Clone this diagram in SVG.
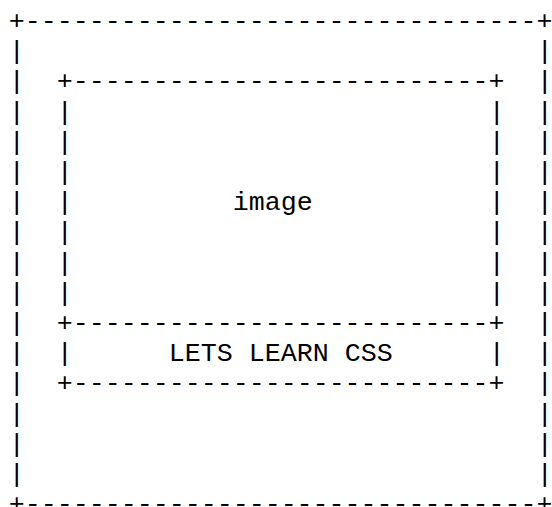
<svg xmlns="http://www.w3.org/2000/svg" width="552" height="507" viewBox="0 0 552 507">
<style>
.t{font-family:"Liberation Mono","Cousine",monospace;font-size:26.667px;fill:#000;white-space:pre}
</style>
<rect width="552" height="507" fill="#fff"/>
<g id="outer-box">
<text class="t" x="8.7" y="29">+--------------------------------+</text>
<text class="t" x="8.7" y="512.2">+--------------------------------+</text>
<text class="t" x="8.7" y="59.2">|</text><text class="t" x="536.7" y="59.2">|</text>
<text class="t" x="8.7" y="89.4">|</text><text class="t" x="536.7" y="89.4">|</text>
<text class="t" x="8.7" y="119.6">|</text><text class="t" x="536.7" y="119.6">|</text>
<text class="t" x="8.7" y="149.8">|</text><text class="t" x="536.7" y="149.8">|</text>
<text class="t" x="8.7" y="180">|</text><text class="t" x="536.7" y="180">|</text>
<text class="t" x="8.7" y="210.2">|</text><text class="t" x="536.7" y="210.2">|</text>
<text class="t" x="8.7" y="240.4">|</text><text class="t" x="536.7" y="240.4">|</text>
<text class="t" x="8.7" y="270.6">|</text><text class="t" x="536.7" y="270.6">|</text>
<text class="t" x="8.7" y="300.8">|</text><text class="t" x="536.7" y="300.8">|</text>
<text class="t" x="8.7" y="331">|</text><text class="t" x="536.7" y="331">|</text>
<text class="t" x="8.7" y="361.2">|</text><text class="t" x="536.7" y="361.2">|</text>
<text class="t" x="8.7" y="391.4">|</text><text class="t" x="536.7" y="391.4">|</text>
<text class="t" x="8.7" y="421.6">|</text><text class="t" x="536.7" y="421.6">|</text>
<text class="t" x="8.7" y="451.8">|</text><text class="t" x="536.7" y="451.8">|</text>
<text class="t" x="8.7" y="482">|</text><text class="t" x="536.7" y="482">|</text>
</g>
<g id="image-box">
<text class="t" x="56.7" y="89.4">+--------------------------+</text>
<text class="t" x="56.7" y="119.6">|</text><text class="t" x="488.7" y="119.6">|</text>
<text class="t" x="56.7" y="149.8">|</text><text class="t" x="488.7" y="149.8">|</text>
<text class="t" x="56.7" y="180">|</text><text class="t" x="488.7" y="180">|</text>
<text class="t" x="56.7" y="210.2">|</text><text class="t" x="488.7" y="210.2">|</text>
<text class="t" x="56.7" y="240.4">|</text><text class="t" x="488.7" y="240.4">|</text>
<text class="t" x="56.7" y="270.6">|</text><text class="t" x="488.7" y="270.6">|</text>
<text class="t" x="56.7" y="300.8">|</text><text class="t" x="488.7" y="300.8">|</text>
<text class="t" x="232.7" y="210.2">image</text>
<text class="t" x="56.7" y="331">+--------------------------+</text>
</g>
<g id="caption-box">
<text class="t" x="56.7" y="361.2">|</text><text class="t" x="488.7" y="361.2">|</text>
<text class="t" x="168.7" y="361.2">LETS LEARN CSS</text>
<text class="t" x="56.7" y="391.4">+--------------------------+</text>
</g>
<g id="connectors"></g>
</svg>
